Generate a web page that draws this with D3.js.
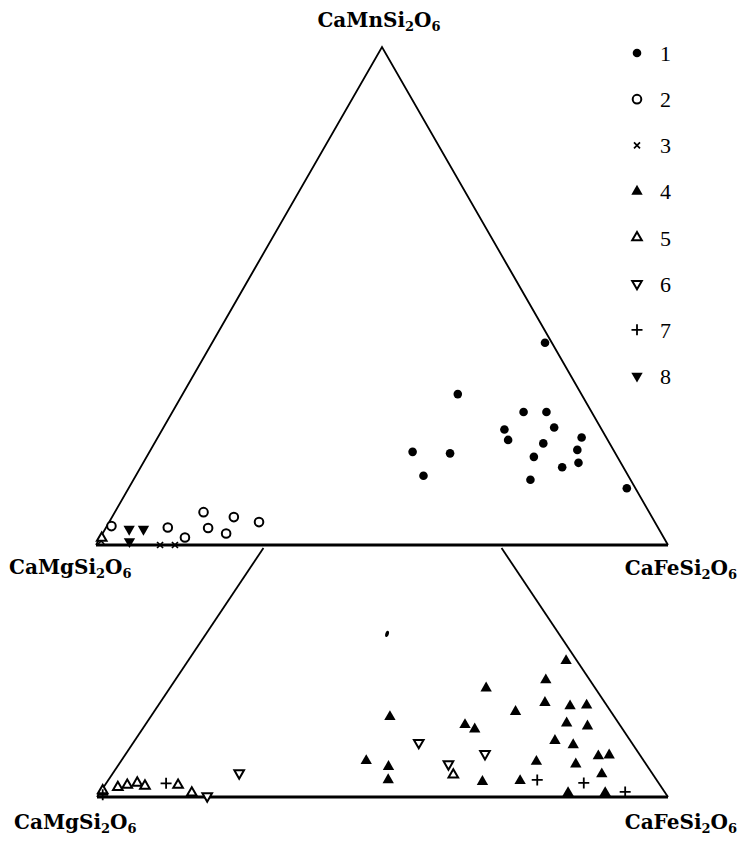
<!DOCTYPE html>
<html><head><meta charset="utf-8">
<script src="https://cdn.jsdelivr.net/npm/d3@7"></script>
<style>body{margin:0;background:#fff} svg{display:block}</style>
</head><body>
<svg id="c" width="738" height="841"></svg>
<script>
// Compositions given as [Fe, Mn] in mol% (Mg = 100 - Fe - Mn)
const legendLabels = ["1", "2", "3", "4", "5", "6", "7", "8"];
const apexNames = ["CaMnSi", "CaMgSi", "CaFeSi"]; // + "2O6" subscripted

// ---- upper diagram ----
const upperS1 = [[58.2,40.6],[48.1,30.3],[61.4,26.7],[65.4,26.7],[59.8,23.2],[68.3,23.6],
  [61.5,21.1],[68.0,20.4],[74.1,21.6],[46.0,18.7],[52.7,18.4],[67.7,17.7],[74.6,19.1],
  [73.7,15.6],[76.1,16.5],[50.3,13.9],[69.4,13.1],[87.1,11.4]];
const upperS2 = [[0.8,3.8],[10.8,3.5],[15.5,6.6],[17.9,3.4],[21.3,5.6],[21.6,2.3],[26.2,4.6],[14.8,1.5]];
const upperS3 = [[0.5,0.8],[11.2,0.0],[13.8,0.0]];
const upperS5 = [[0.3,1.4]];
const upperS8 = [[4.2,3.2],[6.7,3.2],[5.5,0.7]];

// ---- lower diagram ----
const lowerS1 = [[31.7,38.2]];
const lowerS4 = [[66.2,31.9],[64.9,27.4],[55.4,25.5],[67.4,22.1],[72.2,21.3],[75.0,21.5],
  [63.3,20.0],[41.9,18.8],[56.0,16.9],[58.2,15.9],[73.6,17.3],[77.6,16.6],[73.6,13.2],
  [77.3,12.2],[42.9,8.5],[47.5,7.1],[72.8,8.3],[80.0,7.7],[83.0,9.6],[84.8,9.8],
  [49.0,4.0],[65.7,3.6],[72.2,3.8],[85.7,5.4],[82.0,1.0],[88.5,1.0]];
const lowerS5 = [[59.8,5.2],[0.25,1.5],[2.5,2.3],[3.9,2.8],[5.4,3.3],[7.1,2.6],[12.8,2.8],[16.1,1.0]];
const lowerS6 = [[50.0,12.7],[62.9,10.1],[57.7,7.7],[22.1,5.6],[19.2,0.2]];
const lowerS7 = [[0.75,0.5],[10.5,3.2],[75.1,4.0],[83.6,3.3],[91.9,1.2]];
const lowerCutMn = 58.3; // lower diagram is truncated at this Mn content

const svg = d3.select("#c");

function drawMarker(g, type, x, y, small) {
  const t = `translate(${x},${y})`;
  if (type === 1) {
    if (small) {
      g.append("ellipse").attr("cx", x).attr("cy", y).attr("rx", 1.8).attr("ry", 3.2)
        .attr("transform", `rotate(15,${x},${y})`).attr("fill", "#000");
    } else {
      g.append("circle").attr("cx", x).attr("cy", y).attr("r", 4.3).attr("fill", "#000");
    }
  } else if (type === 2) {
    g.append("circle").attr("cx", x).attr("cy", y).attr("r", 4.3)
      .attr("fill", "#fff").attr("stroke", "#000").attr("stroke-width", 2);
  } else if (type === 3) {
    g.append("path").attr("transform", t).attr("d", "M-3,-3L3,3M-3,3L3,-3")
      .attr("stroke", "#000").attr("stroke-width", 1.7).attr("fill", "none");
  } else if (type === 4 || type === 8) {
    g.append("path").attr("transform", t + (type === 8 ? " rotate(180)" : ""))
      .attr("d", d3.symbol(d3.symbolTriangle, 56)()).attr("fill", "#000");
  } else if (type === 5 || type === 6) {
    g.append("path").attr("transform", t + (type === 6 ? " rotate(180)" : ""))
      .attr("d", d3.symbol(d3.symbolTriangle, 40)()).attr("fill", "#fff")
      .attr("stroke", "#000").attr("stroke-width", 2);
  } else if (type === 7) {
    g.append("path").attr("transform", t).attr("d", "M-5.5,0H5.5M0,-5.5V5.5")
      .attr("stroke", "#000").attr("stroke-width", 1.8).attr("fill", "none");
  }
}

function makeProj(xs, ys) {
  return d => [xs(d[0] + d[1] / 2), ys(d[1])];
}

// Upper ternary
const ux = d3.scaleLinear().domain([0, 100]).range([96, 668]);
const uy = d3.scaleLinear().domain([0, 100]).range([545, 47]);
const up = makeProj(ux, uy);

// Lower (truncated, vertically stretched) ternary
const lx = d3.scaleLinear().domain([0, 100]).range([97, 668]);
const ly = d3.scaleLinear().domain([0, 100]).range([797, 370]);
const lp = makeProj(lx, ly);

const line = d3.line();
const frame = svg.append("g").attr("fill", "none").attr("stroke", "#000");
// upper sides
frame.append("path").attr("d", line([up([0,0]), up([0,100]), up([100,0])])).attr("stroke-width", 1.8);
frame.append("path").attr("d", line([up([0,0]), up([100,0])])).attr("stroke-width", 3);
// lower sides
frame.append("path").attr("d", line([lp([0,lowerCutMn]), lp([0,0])])).attr("stroke-width", 1.8);
frame.append("path").attr("d", line([lp([100-lowerCutMn,lowerCutMn]), lp([100,0])])).attr("stroke-width", 1.8);
frame.append("path").attr("d", line([lp([0,0]), lp([100,0])])).attr("stroke-width", 3);

const pts = svg.append("g");
const upperSets = [[1, upperS1], [2, upperS2], [3, upperS3], [5, upperS5], [8, upperS8]];
const lowerSets = [[1, lowerS1], [4, lowerS4], [5, lowerS5], [6, lowerS6], [7, lowerS7]];
upperSets.forEach(([type, arr]) => arr.forEach(d => { const p = up(d); drawMarker(pts, type, p[0], p[1]); }));
lowerSets.forEach(([type, arr]) => arr.forEach(d => { const p = lp(d); drawMarker(pts, type, p[0], p[1], type === 1); }));

// Legend
const ly0 = d3.scaleLinear().domain([0, 7]).range([53, 376]);
const leg = svg.append("g");
legendLabels.forEach((lab, i) => {
  const yy = ly0(i);
  drawMarker(leg, i + 1, 637, yy);
  leg.append("text").attr("x", 660).attr("y", yy + 8)
    .attr("font-family", "Liberation Serif, serif").attr("font-size", 22)
    .attr("fill", "#000").text(lab);
});

// End-member labels
function compound(x, y, name, anchor) {
  const t = svg.append("text").attr("x", x).attr("y", y).attr("text-anchor", anchor)
    .attr("font-family", "DejaVu Serif, serif").attr("font-weight", "bold")
    .attr("font-size", 20).attr("fill", "#000");
  t.append("tspan").text(name);
  t.append("tspan").attr("font-size", 13).attr("dy", 4).text("2");
  t.append("tspan").attr("font-size", 20).attr("dy", -4).text("O");
  t.append("tspan").attr("font-size", 13).attr("dy", 4).text("6");
}
compound(379, 27, apexNames[0], "middle");
compound(9, 574, apexNames[1], "start");
compound(737, 575, apexNames[2], "end");
compound(14, 829, apexNames[1], "start");
compound(737, 829, apexNames[2], "end");
</script>
</body></html>
